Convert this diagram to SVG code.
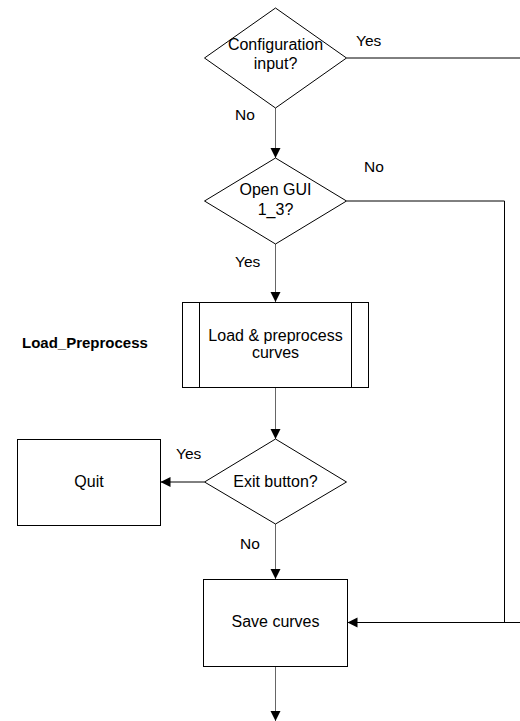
<svg xmlns="http://www.w3.org/2000/svg" width="520" height="721" viewBox="0 0 520 721">
<style>
.shape{fill:#fff;stroke:#000;stroke-width:1}
.t{font-family:"Liberation Sans",Arial,sans-serif;font-size:16px;fill:#000;text-anchor:middle}
.l{font-family:"Liberation Sans",Arial,sans-serif;font-size:15.5px;fill:#000}
.b{font-family:"Liberation Sans",Arial,sans-serif;font-size:15px;font-weight:bold;fill:#000}
.c{fill:none;stroke:#000;stroke-width:1}
.g{stroke:#666}
</style>
<defs>
<marker id="arr" markerUnits="userSpaceOnUse" markerWidth="12" markerHeight="12" viewBox="0 0 12 12" refX="11" refY="6" orient="auto">
<path d="M1,1 L11,6 L1,11 Z" fill="#000"/>
</marker>
</defs>
<g id="connectors">
<path class="c g" d="M275.5,108 V158" marker-end="url(#arr)"/>
<path class="c" d="M346.5,58 H523 V622.5 H347.5" marker-end="url(#arr)"/>
<path class="c" d="M346.5,201 H504.5 V622.5"/>
<path class="c g" d="M275.5,244 V302" marker-end="url(#arr)"/>
<path class="c g" d="M275.5,387.5 V439" marker-end="url(#arr)"/>
<path class="c" d="M204.5,482 H160.5" marker-end="url(#arr)"/>
<path class="c g" d="M275.5,524 V579" marker-end="url(#arr)"/>
<path class="c g" d="M275.5,666.5 V721" marker-end="url(#arr)"/>
</g>
<g id="config">
<polygon class="shape" points="275.5,8 346.5,58 275.5,108 204.5,58"/>
<text class="t" x="275.5" y="50">Configuration</text>
<text class="t" x="275.5" y="69">input?</text>
</g>
<g id="label-yes-config"><text class="l" x="356" y="46">Yes</text></g>
<g id="label-no-config"><text class="l" x="235" y="120">No</text></g>
<g id="opengui">
<polygon class="shape" points="275.5,158 346.5,201 275.5,244 204.5,201"/>
<text class="t" x="275.5" y="195">Open GUI</text>
<text class="t" x="275.5" y="215">1_3?</text>
</g>
<g id="label-no-gui"><text class="l" x="364" y="172">No</text></g>
<g id="label-yes-gui"><text class="l" x="235" y="267">Yes</text></g>
<g id="load">
<rect class="shape" x="182.5" y="302.5" width="186" height="85"/>
<line class="c" x1="199.5" y1="302.5" x2="199.5" y2="387.5"/>
<line class="c" x1="351.5" y1="302.5" x2="351.5" y2="387.5"/>
<text class="t" x="275.5" y="341">Load &amp; preprocess</text>
<text class="t" x="275.5" y="358">curves</text>
</g>
<g id="label-load"><text class="b" x="22" y="348">Load_Preprocess</text></g>
<g id="exit">
<polygon class="shape" points="275.5,439 346.5,482 275.5,524 204.5,482"/>
<text class="t" x="275.5" y="487">Exit button?</text>
</g>
<g id="label-yes-exit"><text class="l" x="176" y="459">Yes</text></g>
<g id="label-no-exit"><text class="l" x="240" y="549">No</text></g>
<g id="quit">
<rect class="shape" x="17.5" y="439.5" width="143" height="86"/>
<text class="t" x="89" y="487">Quit</text>
</g>
<g id="save">
<rect class="shape" x="203.5" y="579.5" width="144" height="87"/>
<text class="t" x="275.5" y="627">Save curves</text>
</g>
</svg>
